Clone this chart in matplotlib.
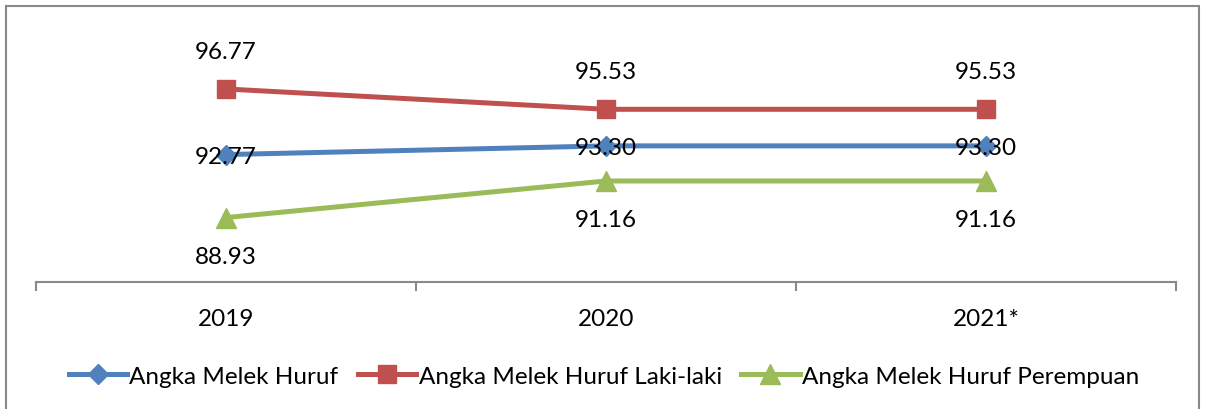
import matplotlib
matplotlib.use("Agg")
import matplotlib.pyplot as plt
from matplotlib.patches import Rectangle

plt.rcParams['font.family'] = ['Lato', 'DejaVu Sans']

years = ["2019", "2020", "2021*"]
amh_total = [92.77, 93.30, 93.30]
amh_male = [96.77, 95.53, 95.53]
amh_female = [88.93, 91.16, 91.16]
series_names = ["Angka Melek Huruf", "Angka Melek Huruf Laki-laki", "Angka Melek Huruf Perempuan"]

W, H = 1208, 410
fig = plt.figure(figsize=(W/100, H/100), dpi=100)
ax = fig.add_axes([36/W, (H-283)/H, (1176-36)/W, (283-37)/H])

x = list(range(len(years)))
blue, red, green = "#4F81BD", "#C0504D", "#9BBB59"
fs = 17.5

l1, = ax.plot(x, amh_total, color=blue, lw=3.6, marker="D", ms=10.5, label=series_names[0])
l2, = ax.plot(x, amh_male, color=red, lw=3.6, marker="s", ms=13, label=series_names[1])
l3, = ax.plot(x, amh_female, color=green, lw=3.6, marker="^", ms=14, label=series_names[2])

for xi, v in zip(x, amh_male):
    ax.annotate(f"{v:.2f}", (xi, v), xytext=(0, 27), textcoords="offset points",
                ha="center", va="center", fontsize=fs)
for xi, v in zip(x, amh_total):
    ax.annotate(f"{v:.2f}", (xi, v), xytext=(0, -1.5), textcoords="offset points",
                ha="center", va="center", fontsize=fs)
for xi, v in zip(x, amh_female):
    ax.annotate(f"{v:.2f}", (xi, v), xytext=(0, -28), textcoords="offset points",
                ha="center", va="center", fontsize=fs)

ax.set_xlim(-0.5, 2.5)
ax.set_ylim(85, 100)
ax.set_yticks([])
for s in ["top", "right", "left"]:
    ax.spines[s].set_visible(False)
ax.spines["bottom"].set_color("#898989")
ax.spines["bottom"].set_linewidth(1.5)
ax.set_xticks(x)
ax.set_xticklabels(years, fontsize=fs)
ax.tick_params(axis="x", which="major", length=0, pad=19)
ax.set_xticks([-0.5, 0.5, 1.5, 2.5], minor=True)
ax.tick_params(axis="x", which="minor", length=6.5, width=1.5, color="#898989", direction="out")

fig.legend(handles=[l1, l2, l3], loc="center", bbox_to_anchor=(0.5, (H-377)/H), ncol=3,
           frameon=False, fontsize=fs, handlelength=2.4, handletextpad=0.1, columnspacing=0.8)

fig.add_artist(Rectangle((6/W, -0.05), (1199-6)/W, (H-7)/H + 0.05, transform=fig.transFigure,
                         fill=False, edgecolor="#898989", lw=1.5))

fig.savefig("out.png", dpi=100)
